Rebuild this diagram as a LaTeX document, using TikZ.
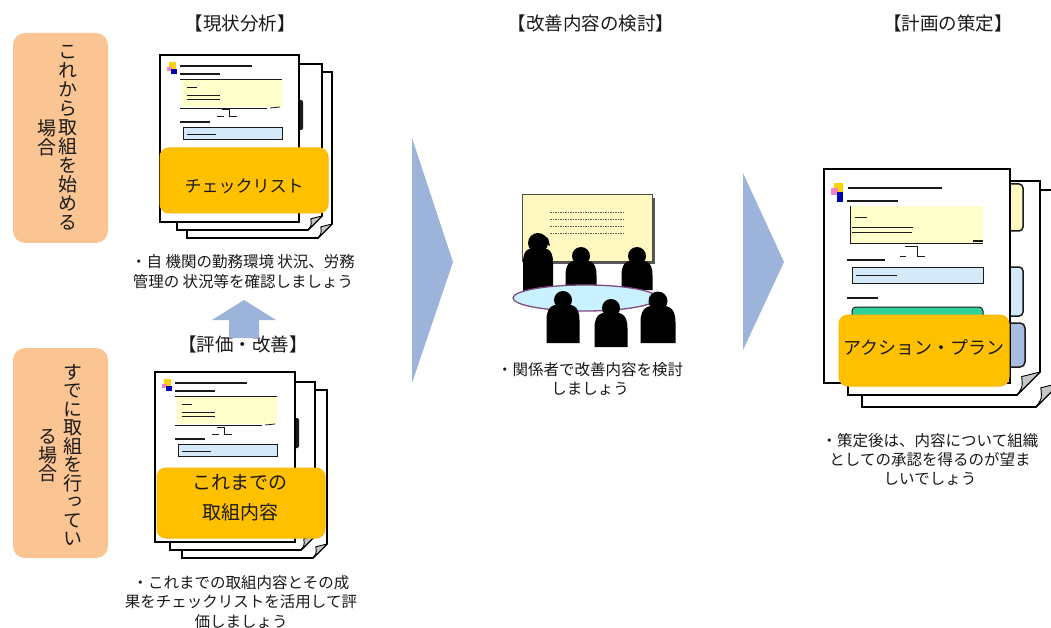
\documentclass[tikz,border=0pt]{standalone}
\usepackage{fontspec}
\setmainfont{Noto Sans CJK JP}
\newfontfamily\vjp[RawFeature=+vert]{Noto Sans CJK JP}

\definecolor{peach}{HTML}{FAC493}
\definecolor{gold}{HTML}{FFC000}
\definecolor{flow}{HTML}{9CB4DA}
\definecolor{paleyellow}{HTML}{FFFFCC}
\definecolor{paleblue}{HTML}{D5EAF8}
\definecolor{tabviolet}{HTML}{A9BCE2}
\definecolor{mint}{HTML}{2FD39A}
\definecolor{boardyellow}{HTML}{FFF8C0}
\definecolor{tablecyan}{HTML}{C9F1FF}
\definecolor{ink}{HTML}{1A1A1A}

\tikzset{
  page/.style={draw=black, fill=white, line width=1.6pt, line join=miter},
  fold/.style={draw=black, fill=gray!45, line width=0.9pt, line join=round},
  tag/.style={fill=gold, draw=gold!85!orange, line width=1pt, rounded corners=9pt},
  tagtext/.style={font=\fontsize{17}{21}\selectfont, text=ink, align=center, inner sep=0pt},
  heading/.style={font=\fontsize{18.5}{20}\selectfont, text=ink, inner sep=0pt},
  note/.style={font=\fontsize{15.5}{20}\selectfont, text=ink, align=center, inner sep=0pt},
  vcol/.style={font=\vjp\fontsize{19}{19}\selectfont, text=ink, align=center, inner sep=0pt},
  case/.style={fill=peach, rounded corners=12pt},
  flowarrow/.style={fill=flow},
  rule/.style={draw=ink, line width=1.2pt},
  hair/.style={draw=ink, line width=0.8pt},
  person/.style={fill=black},
}

% sheet of paper with a folded lower right corner: left, top, right, bottom, fold
\newcommand\sheet[5]{%
  \draw[page] (#1,#2) -- (#3,#2) -- ({#3},{#4-#5}) -- ({#3-#5},{#4}) -- (#1,#4) -- cycle;
  \draw[fold] ({#3},{#4-#5}) -- ({#3-#5},{#4})
    .. controls ({#3-0.75*#5},{#4-0.35*#5}) .. ({#3-0.8*#5},{#4-0.8*#5}) -- cycle;
}

% small form printed on the front sheet (relative to its top left corner)
\newcommand\smallform{%
  \fill[yellow!70!orange] (9,7) rectangle (16,14);
  \fill[magenta!50] (7,12) rectangle (12,16);
  \fill[blue!70!black] (11,14) rectangle (17,19);
  \draw[rule, line width=1.5pt] (20,11) -- (92,11);
  \draw[rule] (20,19) -- (60,19);
  \fill[paleyellow] (22,24) rectangle (122,52);
  \draw[hair] (20,24) -- (122,24);
  \draw[hair] (20,53) -- (107,53);
  \draw[hair] (110,53) -- (120,52);
  \draw[rule, line width=0.9pt] (27,32) -- (37,32);
  \draw[rule, line width=0.9pt] (27,40) -- (60,40);
  \draw[rule, line width=0.9pt] (27,44) -- (60,44);
  \draw[hair, line width=1pt] (62,55) -- (69,55) -- (69,62) -- (77,62);
  \draw[hair, line width=1pt] (57,62) -- (64,62);
  \draw[rule] (20,67) -- (50,67);
  \draw[hair, fill=paleblue] (23,72) rectangle (122,84);
  \draw[rule, line width=0.9pt] (27,79) -- (56,79);
}

% seated or standing silhouette: head x, head y, head radius, half width, bottom
\newcommand\silhouette[5]{%
  \fill[person] (#1,#2) circle (#3);
  \fill[person] ({#1-#4},#5) -- ({#1-#4},{#2+0.6*#3+0.9*#4})
    .. controls ({#1-#4},{#2+0.4*#3}) and ({#1-0.45*#4},{#2+0.5*#3}) .. ({#1},{#2+0.5*#3})
    .. controls ({#1+0.45*#4},{#2+0.5*#3}) and ({#1+#4},{#2+0.4*#3}) .. ({#1+#4},{#2+0.6*#3+0.9*#4})
    -- ({#1+#4},#5) -- cycle;
}

\begin{document}
\begin{tikzpicture}[x=1pt, y=-1pt]
\fill[white] (0,0) rectangle (1051,628);
\useasboundingbox (0,0) rectangle (1051,628);

% ---- left column: the two starting situations
\fill[case] (13,33) rectangle (108,243);
\node[vcol] (startA) at (68,138) {こ\\れ\\か\\ら\\取\\組\\を\\始\\め\\る};
\node[vcol] (startB) at (47,138) {場\\合};
\fill[case] (13,348) rectangle (108,558);
\node[vcol, font=\vjp\fontsize{19}{18.5}\selectfont] (doneA) at (73,455) {す\\で\\に\\取\\組\\を\\行\\っ\\て\\い};
\node[vcol, font=\vjp\fontsize{19}{18.5}\selectfont] (doneB) at (48,456) {る\\場\\合};

% ---- headings
\node[heading] (h1) at (240,23) {【現状分析】};
\node[heading] (h2) at (591,23) {【改善内容の検討】};
\node[heading] (h3) at (948,23) {【計画の策定】};
\node[heading] (h4) at (243,344) {【評価・改善】};

% ---- checklist stack
\sheet{187}{72}{332}{238}{14}
\sheet{177}{64}{322}{230}{14}
\fill[ink, rounded corners=2pt] (292,100) rectangle (303,130);
\draw[page] (160,55) rectangle (299,222);
\begin{scope}[shift={(160,55)}]\smallform\end{scope}
\fill[tag] (160,148) rectangle (328,213);
\node[tagtext] (checklist) at (244,186) {チェックリスト};
\node[note] (n1) at (243,272) {・自 機関の勤務環境 状況、労務\\管理の 状況等を確認しましょう};

% upward arrow from the review step
\fill[flowarrow] (244,300) -- (276,320) -- (259,320) -- (259,338) -- (229,338) -- (229,320) -- (212,320) -- cycle;

% ---- previous measures stack
\sheet{182}{390}{327}{558}{14}
\sheet{170}{382}{315}{550}{14}
\fill[ink, rounded corners=2pt] (288,418) rectangle (299,448);
\draw[page] (155,372) rectangle (295,542);
\begin{scope}[shift={(155,372)}]\smallform\end{scope}
\fill[tag] (157,468) rectangle (325,538);
\node[tagtext, font=\fontsize{19}{30}\selectfont] (previous) at (240,498) {これまでの\\取組内容};
\node[note, font=\fontsize{15.5}{19.5}\selectfont] (n2) at (241,602) {・これまでの取組内容とその成\\果をチェックリストを活用して評\\価しましょう};

% ---- flow arrows
\fill[flowarrow] (412,138) -- (453,262) -- (412,383) -- cycle;
\fill[flowarrow] (743,173) -- (784,262) -- (743,350) -- cycle;

% ---- meeting
\fill[gray!70!black] (525,198) rectangle (655,264);
\draw[draw=gray!60!black, line width=1pt, fill=boardyellow] (522,195) rectangle (652,261);
\foreach \yy in {212,219,226,233}
  \draw[gray!70!black, line width=0.8pt, dash pattern=on 1.5pt off 1pt] (550,\yy) -- (625,\yy);
\silhouette{538}{243}{10}{15}{292}
\fill[person] (536,233) -- (548,238) -- (550,246) -- (540,240) -- cycle;
\silhouette{581}{256}{9}{15.5}{290}
\silhouette{637}{256}{9}{15.5}{290}
\draw[draw=gray!60!violet, line width=1.3pt, fill=tablecyan] (585,298) ellipse [x radius=72, y radius=13];
\silhouette{563}{300}{9}{16.5}{343}
\silhouette{611}{308}{9}{16.5}{347}
\silhouette{658}{301}{9.5}{17.5}{343}
\node[note, font=\fontsize{15.5}{18.5}\selectfont] (n3) at (590,379) {・関係者で改善内容を検討\\しましょう};

% ---- action plan stack
\sheet{862}{190}{1060}{407}{24}
\sheet{848}{181}{1040}{395}{23}
\draw[hair, line width=1.5pt, fill=boardyellow, rounded corners=4pt] (995,184) rectangle (1023,231);
\draw[hair, line width=1.5pt, fill=paleblue, rounded corners=4pt] (995,267) rectangle (1023,316);
\draw[hair, line width=1.5pt, fill=tabviolet, rounded corners=5pt] (995,323) rectangle (1025,367);
\draw[page] (824,169) rectangle (1010,383);
% plan form
\fill[yellow!70!orange] (834,183) rectangle (843,192);
\fill[magenta!50] (831,188) rectangle (838,195);
\fill[blue!70!black] (837,192) rectangle (843,202);
\draw[rule, line width=1.5pt] (848,188) -- (942,188);
\draw[rule, line width=1.4pt] (847,201) -- (898,201);
\fill[paleyellow] (850,206) rectangle (983,244);
\draw[hair, line width=1pt] (850,206) -- (850,244) -- (983,244);
\draw[rule, line width=1.8pt] (973,241) -- (983,241);
\draw[rule, line width=0.9pt] (855,217) -- (867,217);
\draw[rule, line width=0.9pt] (852,227) -- (913,227);
\draw[rule, line width=0.9pt] (852,232) -- (912,232);
\draw[hair, line width=1pt] (905,247) -- (917,247) -- (917,256) -- (925,256);
\draw[hair, line width=1pt] (900,256) -- (906,256);
\draw[rule] (847,260) -- (885,260);
\draw[hair, line width=1pt, fill=paleblue] (852,267) rectangle (983,283);
\draw[rule, line width=0.9pt] (856,275) -- (897,275);
\draw[rule] (847,298) -- (878,298);
\draw[hair, line width=1pt, fill=mint, rounded corners=4pt] (852,322) -- (852,307) -- (983,307) -- (983,322);
\fill[tag] (839,315) rectangle (1009,386);
\node[tagtext, font=\fontsize{18}{21}\selectfont] (plan) at (924,348) {アクション・プラン};
\node[note, font=\fontsize{15.5}{19}\selectfont] (n4) at (930,459) {・策定後は、内容について組織\\としての承認を得るのが望ま\\しいでしょう};
\end{tikzpicture}
\end{document}
